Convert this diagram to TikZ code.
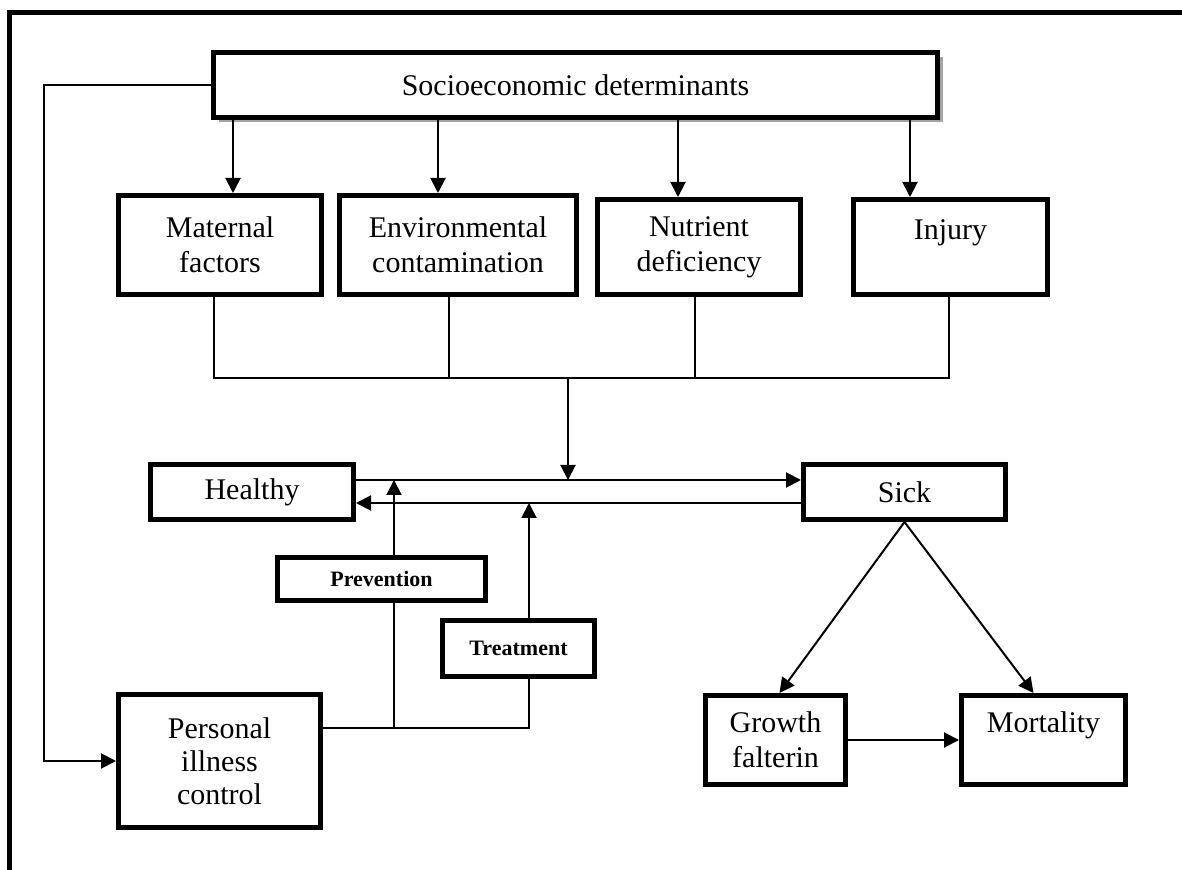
\documentclass[tikz,border=0pt]{standalone}
\usepackage{fontspec}
\setmainfont{Liberation Serif}
\usetikzlibrary{arrows.meta,shadows}
\begin{document}
\begin{tikzpicture}[x=0.5pt,y=-0.5pt,
  box/.style={draw, line width=2.5pt, align=center, inner sep=0pt, fill=white,
    font=\fontsize{15}{17.5}\selectfont},
  smallbox/.style={draw, line width=2.5pt, align=center, inner sep=0pt, fill=white,
    font=\fontsize{11}{13}\selectfont\bfseries},
  conn/.style={line width=1pt},
  arr/.style={conn, -{Triangle[length=7.5pt,width=7.5pt]}},
  frameline/.style={line width=2.5pt}]
\useasboundingbox (0,0) rectangle (1182,870);
% frame (top and left only)
\draw[frameline] (1182,12.5) -- (9.5,12.5) -- (9.5,870);

% nodes
\node[box, minimum width=362pt, minimum height=32.5pt,
  drop shadow={shadow xshift=2.5pt, shadow yshift=-2.5pt, fill=black!45, opacity=0.8}]
  (socio) at (575.5,85) {Socioeconomic determinants};
\node[box, minimum width=101.5pt, minimum height=49.5pt] (maternal) at (220,245) {Maternal\\factors};
\node[box, minimum width=118.5pt, minimum height=49.5pt] (env) at (458,245) {Environmental\\contamination};
\node[box, minimum width=101.5pt, minimum height=47.5pt] (nutr) at (699,247) {Nutrient\\deficiency};
\node[box, minimum width=97pt, minimum height=47.5pt] (injury) at (950.5,247) {Injury\\\phantom{I}};
\node[box, minimum width=101.5pt, minimum height=27.5pt] (healthy) at (252,492) {Healthy};
\node[box, minimum width=101pt, minimum height=27.5pt] (sick) at (904.5,492) {Sick};
\node[smallbox, minimum width=104pt, minimum height=21.5pt] (prevention) at (381.5,579) {Prevention};
\node[smallbox, minimum width=76pt, minimum height=28pt] (treatment) at (518.5,648.5) {Treatment};
\node[box, minimum width=101pt, minimum height=66.5pt, font=\fontsize{15}{16.5}\selectfont] (personal) at (219.5,761) {Personal\\illness\\control};
\node[box, minimum width=70pt, minimum height=44.5pt] (growth) at (775.5,740) {Growth\\falterin};
\node[box, minimum width=82pt, minimum height=44.5pt] (mortality) at (1043.5,740) {Mortality\\\phantom{I}};

% helper coordinates
\coordinate (lx) at (44,0);
\coordinate (a1) at (233,0);
\coordinate (a2) at (438,0);
\coordinate (a3) at (678,0);
\coordinate (a4) at (910,0);
\coordinate (b1) at (214,0);
\coordinate (b2) at (449,0);
\coordinate (b3) at (695,0);
\coordinate (b4) at (949,0);
\coordinate (bus) at (0,378);
\coordinate (xc) at (568,0);
\coordinate (yU) at (0,480);
\coordinate (yL) at (0,503);
\coordinate (xp) at (394,0);
\coordinate (xt) at (529,0);
\coordinate (yP) at (0,728);

% socio to personal
\draw[arr] (socio.west) -- (socio.west -| lx) |- (personal.west);
% socio to factor boxes
\draw[arr] (socio.south -| a1) -- (maternal.north -| a1);
\draw[arr] (socio.south -| a2) -- (env.north -| a2);
\draw[arr] (socio.south -| a3) -- (nutr.north -| a3);
\draw[arr] (socio.south -| a4) -- (injury.north -| a4);
% bus
\draw[conn] (maternal.south -| b1) -- (b1 |- bus) -- (b4 |- bus) -- (injury.south -| b4);
\draw[conn] (env.south -| b2) -- (b2 |- bus);
\draw[conn] (nutr.south -| b3) -- (b3 |- bus);
\draw[arr] (xc |- bus) -- (xc |- yU);
% healthy <-> sick
\draw[arr] (healthy.east |- yU) -- (sick.west |- yU);
\draw[arr] (sick.west |- yL) -- (healthy.east |- yL);
% prevention / treatment
\draw[arr] (prevention.north -| xp) -- (xp |- yU);
\draw[arr] (treatment.north -| xt) -- (xt |- yL);
\draw[conn] (personal.east |- yP) -- (xt |- yP) -- (treatment.south -| xt);
\draw[conn] (xp |- yP) -- (prevention.south -| xp);
% sick outcomes
\draw[arr] (sick.south) -- ([xshift=2pt]growth.north);
\draw[arr] (sick.south) -- ([xshift=-5pt]mortality.north);
\draw[arr] (growth.east) -- (mortality.west);
\end{tikzpicture}
\end{document}
